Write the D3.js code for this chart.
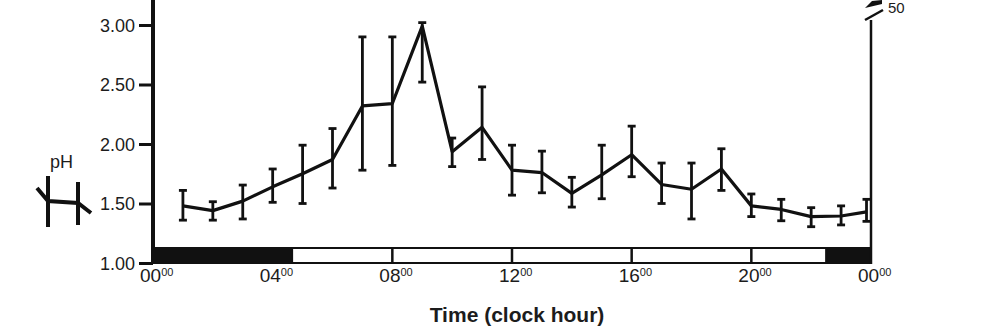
<!DOCTYPE html>
<html>
<head>
<meta charset="utf-8">
<script src="https://cdn.jsdelivr.net/npm/d3@7"></script>
<style>
  body { margin: 0; background: #fff; }
  svg { display: block; }
  text { font-family: "Liberation Sans", Arial, sans-serif; fill: #1c1c1c; }
</style>
</head>
<body>
<svg width="1000" height="334"></svg>
<script>
// hourly mean gastric pH with error bars
var hours   = [1, 2, 3, 4, 5, 6, 7, 8, 9, 10, 11, 12, 13, 14, 15, 16, 17, 18, 19, 20, 21, 22, 23, 23.85];
var phMean  = [1.48, 1.44, 1.52, 1.64, 1.75, 1.87, 2.32, 2.34, 2.99, 1.935, 2.14, 1.78, 1.76, 1.585, 1.74, 1.91, 1.66, 1.62, 1.79, 1.48, 1.45, 1.39, 1.395, 1.43];
var phUpper = [1.61, 1.515, 1.655, 1.79, 1.99, 2.13, 2.90, 2.90, 3.02, 2.05, 2.48, 1.99, 1.94, 1.72, 1.99, 2.15, 1.84, 1.84, 1.96, 1.58, 1.535, 1.465, 1.48, 1.535];
var phLower = [1.36, 1.36, 1.37, 1.51, 1.50, 1.63, 1.78, 1.82, 2.52, 1.81, 1.87, 1.57, 1.59, 1.47, 1.54, 1.725, 1.50, 1.37, 1.61, 1.39, 1.355, 1.305, 1.32, 1.35];

var yTicks = [1.0, 1.5, 2.0, 2.5, 3.0];
var xTicks = [0, 4, 8, 12, 16, 20, 24];
var xTickLabels = ['00', '04', '08', '12', '16', '20', '00'];
var barTicks = [8, 12, 16, 20];

// light / dark bar along the bottom
var darkPeriods = [[0, 4.65], [22.5, 24]];
var lightPeriods = [[4.65, 22.5]];

var svg = d3.select('svg');
var ink = '#111';

var x = d3.scaleLinear().domain([0, 24]).range([153, 871]);
var y = d3.scaleLinear().domain([1, 3]).range([263, 25]);

// light/dark bar
var barTop = 248, barBottom = 264;
svg.selectAll('.dark').data(darkPeriods).enter().append('rect')
    .attr('x', function(d) { return x(d[0]); })
    .attr('y', barTop - 1)
    .attr('width', function(d) { return x(d[1]) - x(d[0]); })
    .attr('height', barBottom - barTop + 1)
    .attr('fill', ink);
svg.selectAll('.light').data(lightPeriods).enter().append('rect')
    .attr('x', function(d) { return x(d[0]); })
    .attr('y', barTop)
    .attr('width', function(d) { return x(d[1]) - x(d[0]); })
    .attr('height', barBottom - barTop - 1)
    .attr('fill', '#fff')
    .attr('stroke', ink)
    .attr('stroke-width', 2);
svg.selectAll('.barTick').data(barTicks).enter().append('line')
    .attr('x1', function(d) { return x(d); })
    .attr('x2', function(d) { return x(d); })
    .attr('y1', barTop)
    .attr('y2', barBottom)
    .attr('stroke', ink)
    .attr('stroke-width', 2.5);

// left axis
var yAxis = d3.axisLeft(y).tickValues(yTicks).tickSize(14).tickPadding(4)
    .tickFormat(d3.format('.2f'));
var yG = svg.append('g').attr('transform', 'translate(' + x(0) + ',0)').call(yAxis);
yG.select('.domain').remove();
yG.selectAll('.tick line').attr('stroke', ink).attr('stroke-width', 3);
yG.selectAll('.tick text')
    .style('font-size', '18px')
    .attr('fill', '#1c1c1c')
    .attr('dy', '0.36em');
svg.append('line')
    .attr('x1', x(0)).attr('x2', x(0))
    .attr('y1', 0).attr('y2', barBottom)
    .attr('stroke', ink).attr('stroke-width', 4);

// right axis with break
svg.append('line')
    .attr('x1', x(24)).attr('x2', x(24))
    .attr('y1', 20).attr('y2', barBottom)
    .attr('stroke', ink).attr('stroke-width', 2.5);
svg.append('line')
    .attr('x1', x(24) - 6).attr('y1', 20)
    .attr('x2', x(24) + 12).attr('y2', 10)
    .attr('stroke', ink).attr('stroke-width', 2.5);
svg.append('path')
    .attr('d', 'M' + (x(24) - 6) + ',8 L' + (x(24) + 1) + ',1 L' + (x(24) + 11) + ',0 L' + (x(24) + 11) + ',4 Z')
    .attr('fill', ink);
svg.append('text')
    .attr('x', x(24) + 17).attr('y', 13)
    .style('font-size', '15px')
    .text('50');

// x tick labels with superscript minutes
var xl = svg.selectAll('.xlab').data(xTicks).enter().append('text')
    .attr('x', function(d) { return x(d) - 13; })
    .attr('y', 282);
xl.append('tspan').style('font-size', '19px')
    .text(function(d, i) { return xTickLabels[i]; });
xl.append('tspan').style('font-size', '11px').attr('dy', -6).text('00');

// axis title
svg.append('text')
    .attr('x', 517).attr('y', 322)
    .attr('text-anchor', 'middle')
    .style('font-size', '21px')
    .style('font-weight', 'bold')
    .text('Time (clock hour)');

// error bars
var capW = 4;
var eb = svg.selectAll('.eb').data(hours).enter().append('g')
    .attr('stroke', ink).attr('stroke-width', 2.8);
eb.append('line')
    .attr('x1', function(d) { return x(d); })
    .attr('x2', function(d) { return x(d); })
    .attr('y1', function(d, i) { return y(phUpper[i]); })
    .attr('y2', function(d, i) { return y(phLower[i]); });
eb.append('line')
    .attr('x1', function(d) { return x(d) - capW; })
    .attr('x2', function(d) { return x(d) + capW; })
    .attr('y1', function(d, i) { return y(phUpper[i]); })
    .attr('y2', function(d, i) { return y(phUpper[i]); });
eb.append('line')
    .attr('x1', function(d) { return x(d) - capW; })
    .attr('x2', function(d) { return x(d) + capW; })
    .attr('y1', function(d, i) { return y(phLower[i]); })
    .attr('y2', function(d, i) { return y(phLower[i]); });

// mean line
var line = d3.line()
    .x(function(d) { return x(d); })
    .y(function(d, i) { return y(phMean[i]); });
svg.append('path')
    .datum(hours)
    .attr('d', line)
    .attr('fill', 'none')
    .attr('stroke', ink)
    .attr('stroke-width', 3.2)
    .attr('stroke-linejoin', 'round');

// small legend glyph with "pH" label
var legend = svg.append('g').attr('stroke', ink).attr('stroke-width', 4).attr('fill', 'none');
legend.append('path').attr('d', 'M37,188 L48,201 L78,203 L91,213');
legend.append('line').attr('x1', 48).attr('x2', 48).attr('y1', 176).attr('y2', 227);
legend.append('line').attr('x1', 78).attr('x2', 78).attr('y1', 182).attr('y2', 225);
svg.append('text')
    .attr('x', 50).attr('y', 168)
    .style('font-size', '18px')
    .text('pH');
</script>
</body>
</html>
